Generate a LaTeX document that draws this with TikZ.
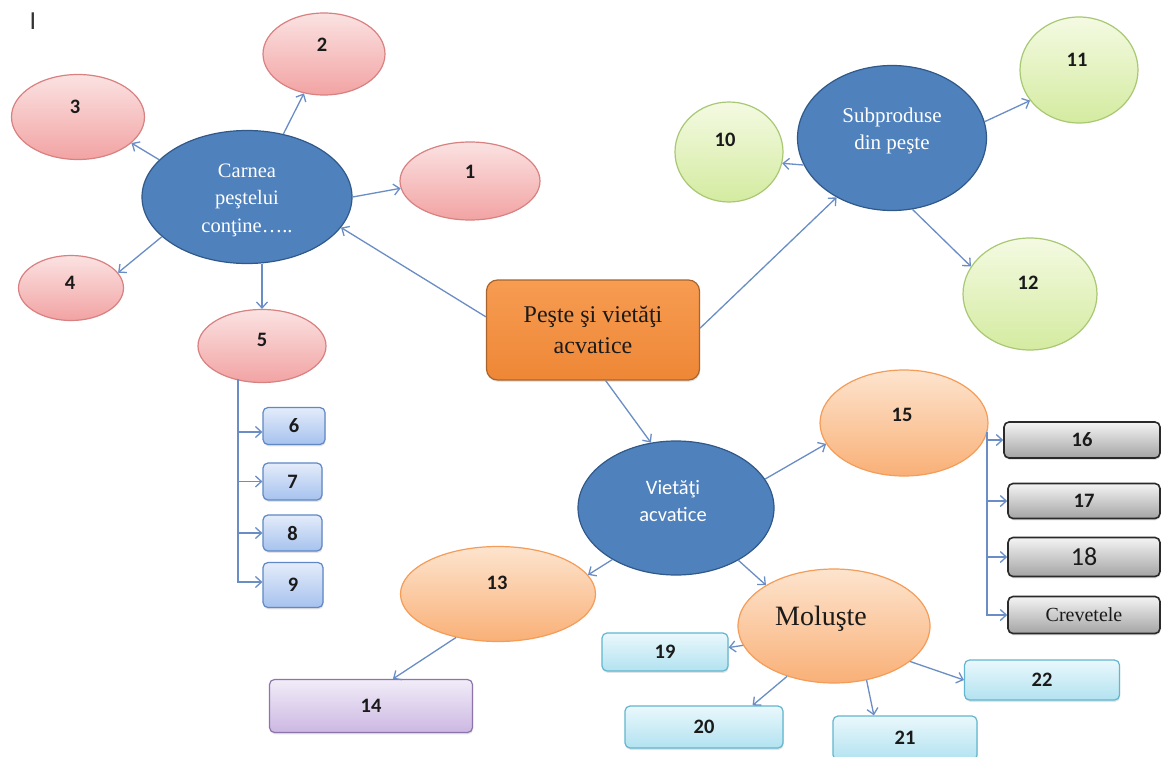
\documentclass[tikz,border=0pt]{standalone}
\usepackage{fontspec}
\setmainfont{Liberation Serif}
\newfontfamily\carl{Carlito}
\usetikzlibrary{shapes.geometric,arrows.meta,shadows}

% palette
\definecolor{bluefill}{HTML}{4F81BD}
\definecolor{blueline}{HTML}{30598A}
\definecolor{pinktop}{HTML}{FBE2E2}
\definecolor{pinkbot}{HTML}{F2A3A3}
\definecolor{pinkline}{HTML}{D98080}
\definecolor{greentop}{HTML}{F4FAE2}
\definecolor{greenbot}{HTML}{D4EBA0}
\definecolor{greenline}{HTML}{A8C874}
\definecolor{peachtop}{HTML}{FDE4CE}
\definecolor{peachbot}{HTML}{F9B077}
\definecolor{peachline}{HTML}{F49C58}
\definecolor{maintop}{HTML}{F79C52}
\definecolor{mainbot}{HTML}{EE8736}
\definecolor{mainline}{HTML}{A8642C}
\definecolor{bxtop}{HTML}{E4ECFA}
\definecolor{bxbot}{HTML}{A6C2EE}
\definecolor{bxline}{HTML}{5F88C4}
\definecolor{grtop}{HTML}{F4F4F4}
\definecolor{grbot}{HTML}{A4A4A4}
\definecolor{grline}{HTML}{2A2A2A}
\definecolor{cytop}{HTML}{EAF8FC}
\definecolor{cybot}{HTML}{B2E2F0}
\definecolor{cyline}{HTML}{62B6CE}
\definecolor{putop}{HTML}{F1ECF8}
\definecolor{pubot}{HTML}{CCB8E2}
\definecolor{puline}{HTML}{8D74AC}
\definecolor{arrowblue}{HTML}{6A8DC6}
\definecolor{txt}{HTML}{1A1A1A}

\begin{document}
\begin{tikzpicture}[x=1pt,y=-1pt,
  oval/.style={ellipse, inner sep=0pt, line width=1.2pt},
  blueoval/.style={oval, draw=blueline, fill=bluefill},
  pinkoval/.style={oval, draw=pinkline, top color=pinktop, bottom color=pinkbot},
  greenoval/.style={oval, draw=greenline, top color=greentop, bottom color=greenbot},
  peachoval/.style={oval, draw=peachline, top color=peachtop, bottom color=peachbot},
  box/.style={rectangle, rounded corners=5pt, inner sep=0pt, line width=1.2pt,
    drop shadow={shadow xshift=0.6pt, shadow yshift=-1.8pt, opacity=0.22}},
  mainbox/.style={box, rounded corners=11pt, draw=mainline, top color=maintop, bottom color=mainbot,
    align=center, text=txt, font=\fontsize{24}{31}\selectfont},
  bluebox/.style={box, draw=bxline, top color=bxtop, bottom color=bxbot, num},
  graybox/.style={box, draw=grline, top color=grtop, bottom color=grbot, line width=1.6pt, num},
  cyanbox/.style={box, draw=cyline, top color=cytop, bottom color=cybot, num},
  purplebox/.style={box, draw=puline, top color=putop, bottom color=pubot, num},
  num/.style={font=\carl\bfseries\fontsize{20.5}{24}\selectfont, text=txt},
  whitetext/.style={text=white, align=center},
  arr/.style={draw=arrowblue, line width=1.3pt, -{Straight Barb[length=6pt,width=11pt]}}
]
\fill[white] (0,0) rectangle (1161,757);
\useasboundingbox (0,0) rectangle (1161,757);

\node[font=\carl\fontsize{26}{26}\selectfont, text=black!80] (cursor) at (33,21) {I};

% --- what fish meat contains ---
\node[blueoval, minimum width=210pt, minimum height=133pt] (carnea) at (247,197) {};
\node[whitetext, font=\fontsize{20.5}{27.5}\selectfont] (carneaT) at (247,200) {Carnea\\peştelui\\conţine…..};

\node[pinkoval, minimum width=140pt, minimum height=78pt] (e1) at (470,181) {};
\node[num] (t1) at (470,172) {1};
\node[pinkoval, minimum width=122pt, minimum height=82pt] (e2) at (324,54) {};
\node[num] (t2) at (322,45) {2};
\node[pinkoval, minimum width=133pt, minimum height=85pt] (e3) at (78,117) {};
\node[num] (t3) at (75,107) {3};
\node[pinkoval, minimum width=105pt, minimum height=65pt] (e4) at (71,288) {};
\node[num] (t4) at (70,283) {4};
\node[pinkoval, minimum width=128pt, minimum height=73pt] (e5) at (262,346) {};
\node[num] (t5) at (262,340) {5};

\node[bluebox, minimum width=62pt, minimum height=37pt] (b6) at (294,426) {6};
\node[bluebox, minimum width=59pt, minimum height=37pt] (b7) at (292.5,481.5) {7};
\node[bluebox, minimum width=59pt, minimum height=36pt] (b8) at (292.5,533) {8};
\node[bluebox, minimum width=60pt, minimum height=45pt] (b9) at (293,585) {9};

% --- central topic ---
\node[mainbox, minimum width=213pt, minimum height=100pt] (main) at (593,330) {Peşte şi vietăţi\\acvatice};

% --- by-products ---
\node[blueoval, minimum width=189pt, minimum height=145pt] (sub) at (892,138) {};
\node[whitetext, font=\fontsize{21}{27}\selectfont] (subT) at (892,131) {Subproduse\\din peşte};
\node[greenoval, minimum width=108pt, minimum height=100pt] (c10) at (729,152) {};
\node[num] (t10) at (725,140) {10};
\node[greenoval, minimum width=118pt, minimum height=106pt] (c11) at (1079,70) {};
\node[num] (t11) at (1077,60) {11};
\node[greenoval, minimum width=134pt, minimum height=112pt] (c12) at (1030,294) {};
\node[num] (t12) at (1028,283) {12};

% --- aquatic creatures ---
\node[blueoval, minimum width=196pt, minimum height=134pt] (viet) at (676,508) {};
\node[whitetext, font=\carl\fontsize{20.5}{27}\selectfont] (vietT) at (673,501) {Vietăţi\\acvatice};

\node[peachoval, minimum width=168pt, minimum height=106pt] (e15) at (904,423) {};
\node[num] (t15) at (902,415) {15};
\node[peachoval, minimum width=195pt, minimum height=95pt] (e13) at (498,594) {};
\node[num] (t13) at (497,583) {13};
\node[peachoval, minimum width=192pt, minimum height=114pt] (mol) at (834,626) {};
\node[text=txt, font=\fontsize{28}{30}\selectfont] (molT) at (821,619) {Moluşte};

\node[purplebox, minimum width=203pt, minimum height=53pt] (b14) at (371,706) {14};

\node[graybox, minimum width=156pt, minimum height=36pt] (b16) at (1082,440) {16};
\node[graybox, minimum width=152pt, minimum height=35pt] (b17) at (1084,501) {17};
\node[graybox, minimum width=152pt, minimum height=39pt, font=\carl\fontsize{26}{28}\selectfont] (b18) at (1084,557) {18};
\node[graybox, minimum width=152pt, minimum height=37pt, font=\fontsize{20}{22}\selectfont] (bcrev) at (1084,615) {Crevetele};

\node[cyanbox, minimum width=126pt, minimum height=38pt] (b19) at (665,652) {19};
\node[cyanbox, minimum width=158pt, minimum height=42pt] (b20) at (704,727) {20};
\node[cyanbox, minimum width=144pt, minimum height=44pt] (b21) at (905,738) {21};
\node[cyanbox, minimum width=155pt, minimum height=40pt] (b22) at (1042,680) {22};

% --- connectors ---
\draw[arr] (main.173) -- (carnea.-18);
\draw[arr] (main.1) -- (sub.-133);
\draw[arr] (main.-76) -- (viet.111);

\draw[arr] (carnea.157) -- (e3.-26);
\draw[arr] (carnea.60) -- (e2.-117);
\draw[arr] (carnea.0) -- (e1.186);
\draw[arr] (carnea.205) -- (e4.18);
\draw[arr] (e5.north |- carnea.south) -- (e5.north);

\coordinate (trunk5) at (238,379);
\draw[arr] (trunk5) |- ([yshift=-6pt]b6.west);
\draw[arr] (trunk5) |- (b7.west);
\draw[arr] (trunk5) |- (b8.west);
\draw[arr] (trunk5) |- ([yshift=3pt]b9.west);

\draw[arr] (sub.197) -- (c10.-12);
\draw[arr] (sub.10) -- (c11.212);
\draw[arr] (sub.-74) -- (c12.155);

\draw[arr] (viet.18) -- (e15.195);
\draw[arr] (viet.219) -- (e13.12);
\draw[arr] (viet.-40) -- (mol.149);

\coordinate (trunk15) at (987,432);
\draw[arr] (trunk15) |- (b16.west);
\draw[arr] (trunk15) |- (b17.west);
\draw[arr] (trunk15) |- (b18.west);
\draw[arr] (trunk15) |- (bcrev.west);

\draw[arr] (e13.-134) -- (b14.51);

\draw[arr] (mol.192) -- (b19.4);
\draw[arr] (mol.-133) -- (b20.24);
\draw[arr] (mol.-59) -- (b21.144);
\draw[arr] (mol.-25) -- (b22.west);
\end{tikzpicture}
\end{document}
